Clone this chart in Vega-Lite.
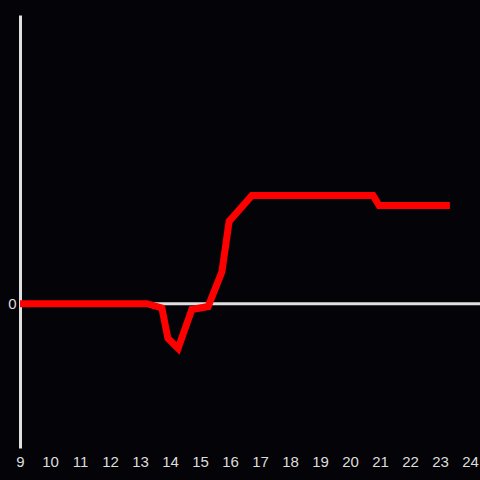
{
  "$schema": "https://vega.github.io/schema/vega-lite/v6.json",
  "autosize": "none",
  "width": 460,
  "height": 433,
  "padding": {"left": 20, "top": 15, "right": 0, "bottom": 32},
  "background": "#040307",
  "config": {"view": {"stroke": null}, "font": "Liberation Sans"},
  "datasets": {
    "series": [
      {"hour": 9, "value": 0},
      {"hour": 13.23, "value": 0},
      {"hour": 13.73, "value": -0.03},
      {"hour": 13.93, "value": -0.24},
      {"hour": 14.27, "value": -0.31},
      {"hour": 14.73, "value": -0.04},
      {"hour": 15.27, "value": -0.02},
      {"hour": 15.73, "value": 0.22},
      {"hour": 15.97, "value": 0.57},
      {"hour": 16.73, "value": 0.75},
      {"hour": 20.77, "value": 0.75},
      {"hour": 20.97, "value": 0.68},
      {"hour": 23.33, "value": 0.68}
    ],
    "zero": [{"value": 0}]
  },
  "layer": [
    {
      "data": {"name": "zero"},
      "mark": {"type": "rule", "color": "#e0e0e0", "strokeWidth": 3},
      "encoding": {
        "y": {"field": "value", "type": "quantitative", "scale": {"domain": [-1, 2]}}
      }
    },
    {
      "data": {"name": "series"},
      "mark": {"type": "line", "color": "#ff0000", "strokeWidth": 7, "strokeJoin": "miter", "strokeCap": "butt"},
      "encoding": {
        "x": {
          "field": "hour", "type": "quantitative",
          "scale": {"domain": [9, 24.3333], "nice": false, "zero": false},
          "axis": {"title": null, "values": [9,10,11,12,13,14,15,16,17,18,19,20,21,22,23,24], "format": "d", "domain": false, "ticks": false, "grid": false, "labelColor": "#dddddd", "labelFontSize": 15, "labelPadding": 6, "labelFlush": false}
        },
        "y": {
          "field": "value", "type": "quantitative",
          "scale": {"domain": [-1, 2], "nice": false},
          "axis": {"title": null, "values": [0], "format": "d", "ticks": false, "grid": false, "domainColor": "#e0e0e0", "domainWidth": 3, "labelColor": "#dddddd", "labelFontSize": 15, "labelPadding": 4}
        }
      }
    }
  ]
}
